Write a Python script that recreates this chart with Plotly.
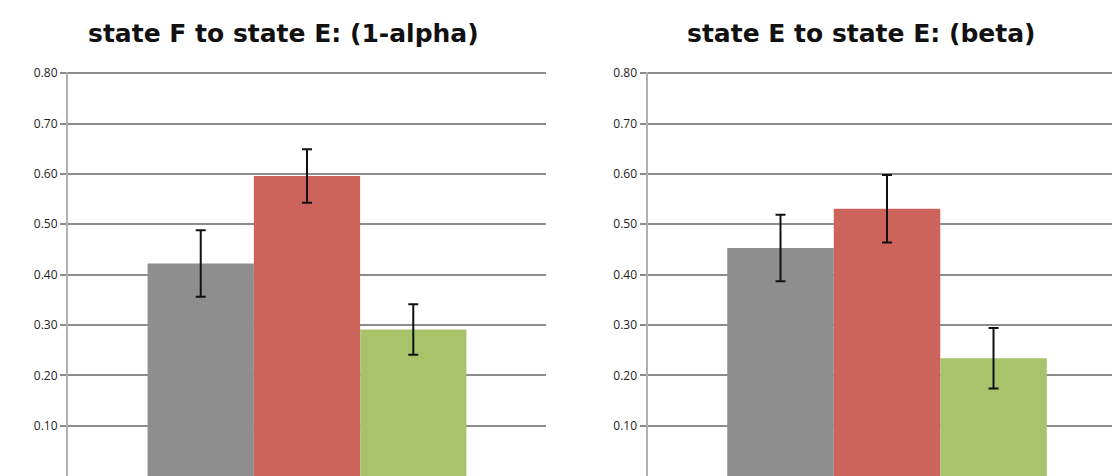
import plotly.graph_objects as go

# ---- data ----
panel_titles = ["state F to state E: (1-alpha)", "state E to state E: (beta)"]
bar_names = ["group 1", "group 2", "group 3"]
bar_colors = ["#8e8e8e", "#cc645c", "#a8c36a"]
alpha_values = [0.422, 0.596, 0.291]
alpha_errors = [0.066, 0.053, 0.050]
beta_values = [0.453, 0.531, 0.234]
beta_errors = [0.066, 0.067, 0.060]
tick_vals = [0.1, 0.2, 0.3, 0.4, 0.5, 0.6, 0.7, 0.8]
tick_labels = ["0.10", "0.20", "0.30", "0.40", "0.50", "0.60", "0.70", "0.80"]
category = ["all"]

# the page body has an 8px margin; the figure fills the rest of the window
OFF = 8
W, H = 1120 - OFF, 476 - OFF
TOP = 72 - OFF
YMAX = 0.8025

fig = go.Figure()
for panel, (vals, errs) in enumerate([(alpha_values, alpha_errors), (beta_values, beta_errors)]):
    xa = "x" if panel == 0 else "x2"
    ya = "y" if panel == 0 else "y2"
    for i in range(3):
        fig.add_trace(go.Bar(
            x=category, y=[vals[i]], name=bar_names[i],
            marker=dict(color=bar_colors[i], line=dict(width=0)),
            error_y=dict(type="data", array=[errs[i]], color="#111111", thickness=2, width=5),
            xaxis=xa, yaxis=ya, showlegend=False, offsetgroup=str(i),
        ))

def pxx(X):
    return (X - OFF) / W

def pxy(Y):
    return (H - (Y - OFF)) / (H - TOP)

yax = dict(range=[0, YMAX], tickvals=tick_vals, ticktext=tick_labels,
           showgrid=True, gridcolor="#8c8c8c", gridwidth=1.5,
           showline=True, linecolor="#b0b0b0", linewidth=2,
           ticks="outside", ticklen=6, tickcolor="#8c8c8c", tickwidth=1.5,
           tickfont=dict(family="Open Sans", size=12, color="#222222"),
           zeroline=False, fixedrange=True, automargin=False)
xax = dict(showticklabels=False, showgrid=False, zeroline=False, automargin=False,
           showline=True, linecolor="#8c8c8c", linewidth=1.5, type="category")

fig.update_layout(
    width=W, height=H,
    margin=dict(l=0, r=0, t=TOP, b=0, autoexpand=False),
    paper_bgcolor="white", plot_bgcolor="white",
    barmode="group", bargap=0.333, bargroupgap=0,
    xaxis=dict(xax, domain=[pxx(68), pxx(546)], anchor="y", range=[-0.5, 0.5]),
    yaxis=dict(yax, anchor="x", domain=[0, 1]),
    xaxis2=dict(xax, domain=[pxx(647.5), 1.0], anchor="y2", range=[-0.5, 0.4864]),
    yaxis2=dict(yax, anchor="x2", domain=[0, 1]),
    annotations=[
        dict(text="<b>" + panel_titles[0] + "</b>", x=pxx(283), y=pxy(34),
             xref="paper", yref="paper", showarrow=False, xanchor="center", yanchor="middle",
             font=dict(family="DejaVu Sans", size=25, color="#111111")),
        dict(text="<b>" + panel_titles[1] + "</b>", x=pxx(861), y=pxy(34),
             xref="paper", yref="paper", showarrow=False, xanchor="center", yanchor="middle",
             font=dict(family="DejaVu Sans", size=25, color="#111111")),
    ],
)

fig.write_html("out.html")
